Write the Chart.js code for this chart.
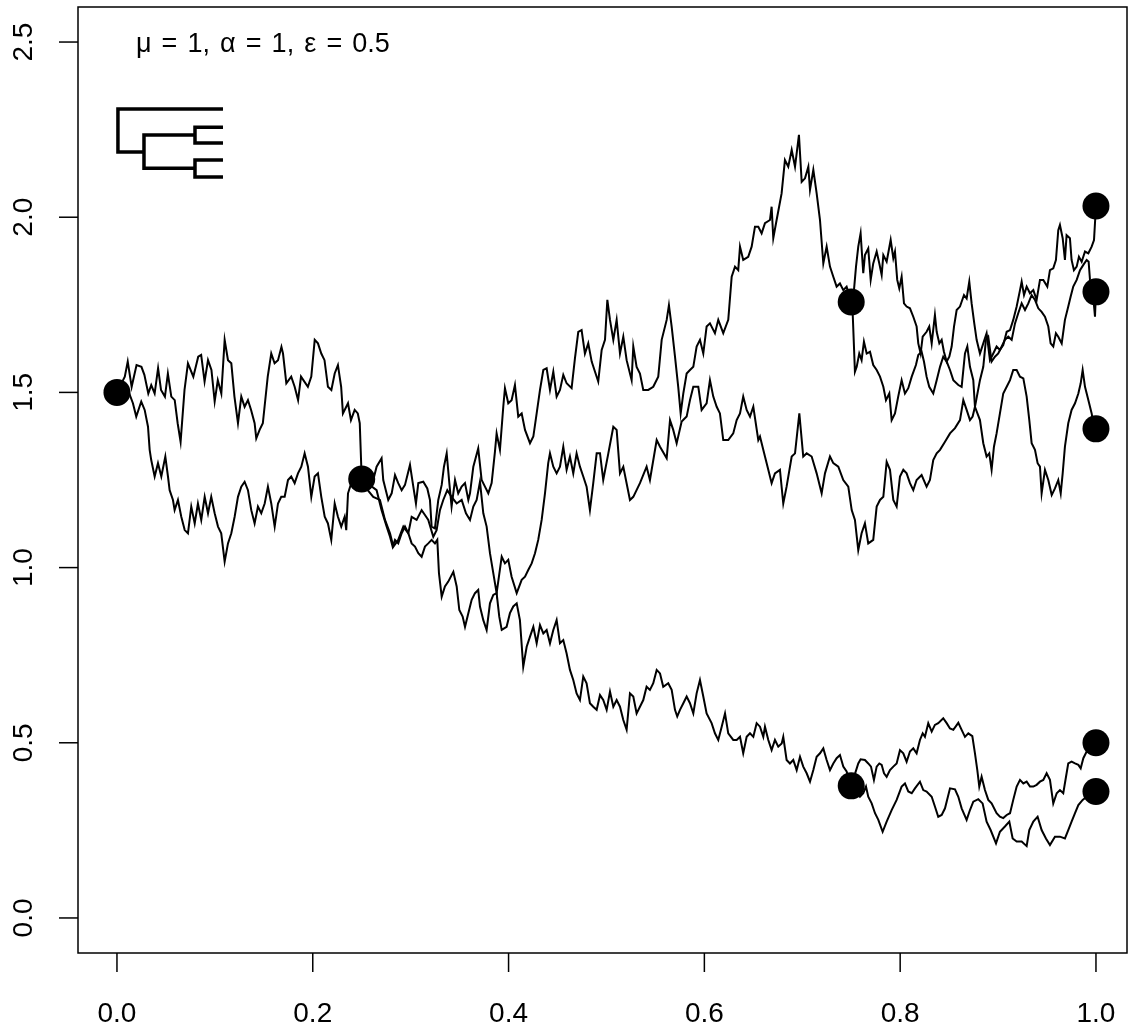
<!DOCTYPE html>
<html>
<head>
<meta charset="utf-8">
<script src="https://cdn.jsdelivr.net/npm/chart.js@4.4.0/dist/chart.umd.min.js"></script>
<style>
  html, body { margin: 0; padding: 0; background: #ffffff; }
  canvas { display: block; }
</style>
</head>
<body>
<canvas id="bm-tree" width="1129" height="1028"></canvas>
<script>
// Axis ticks and labels
const xTicks = [0, 0.2, 0.4, 0.6, 0.8, 1.0];
const xTickLabels = ['0.0', '0.2', '0.4', '0.6', '0.8', '1.0'];
const yTicks = [0, 0.5, 1.0, 1.5, 2.0, 2.5];
const yTickLabels = ['0.0', '0.5', '1.0', '1.5', '2.0', '2.5'];
const titleText = 'μ = 1, α = 1, ε = 0.5';

// Node and tip values [time, trait]
const nodeDots = [[0, 1.5], [0.25, 1.253], [0.75, 1.758], [0.75, 0.377],
    [1, 2.032], [1, 1.787], [1, 1.396], [1, 0.500], [1, 0.361]];

// Small tree icon (null breaks the line)
const treeIcon = [
    [0.1083, 2.309], [0.001, 2.309], [0.001, 2.186], [0.0276, 2.186], [0.05, null],
    [0.0797, 2.235], [0.0276, 2.235], [0.0276, 2.140], [0.0797, 2.140], [0.05, null],
    [0.1083, 2.257], [0.0797, 2.257], [0.0797, 2.212], [0.1083, 2.212], [0.05, null],
    [0.1083, 2.163], [0.0797, 2.163], [0.0797, 2.115], [0.1083, 2.115]
];

// root -> first split (upper wander)
const rootToSplitPath = [[0,1.5],[0.008,1.545],[0.011,1.588],[0.015,1.516],[0.020,1.578],[0.025,1.573],[0.028,1.550],[0.032,1.497],[0.035,1.521],[0.0385,1.497],[0.042,1.569],[0.045,1.507],[0.049,1.488],[0.052,1.554],[0.0555,1.488],[0.059,1.478],[0.062,1.412],[0.065,1.359],[0.069,1.507],[0.0725,1.583],[0.078,1.545],[0.083,1.602],[0.086,1.607],[0.0895,1.531],[0.093,1.592],[0.0965,1.564],[0.0998,1.474],[0.103,1.535],[0.1066,1.497],[0.110,1.650],[0.1134,1.592],[0.1168,1.583],[0.120,1.488],[0.1236,1.412],[0.127,1.488],[0.1304,1.459],[0.1338,1.478],[0.137,1.450],[0.1406,1.412],[0.1423,1.369],[0.1457,1.393],[0.149,1.412],[0.154,1.545],[0.1576,1.611],[0.161,1.583],[0.1645,1.592],[0.168,1.630],[0.1696,1.611],[0.173,1.526],[0.178,1.545],[0.1815,1.516],[0.185,1.478],[0.188,1.545],[0.195,1.516],[0.1985,1.545],[0.202,1.650],[0.2053,1.640],[0.2087,1.611],[0.212,1.592],[0.2155,1.516],[0.219,1.507],[0.2224,1.554],[0.2257,1.578],[0.229,1.516],[0.2308,1.440],[0.236,1.469],[0.239,1.421],[0.2428,1.450],[0.246,1.440],[0.248,1.412],[0.25,1.253]];

// root -> tip, the long lineage that never splits
const longLineagePath = [[0,1.5],[0.0112,1.507],[0.0163,1.469],[0.0197,1.431],[0.0248,1.474],[0.0283,1.450],[0.0317,1.402],[0.0334,1.336],[0.035,1.307],[0.0385,1.260],[0.0419,1.298],[0.0453,1.260],[0.0494,1.317],[0.0521,1.260],[0.0538,1.221],[0.0572,1.193],[0.0589,1.164],[0.0623,1.193],[0.0657,1.145],[0.0692,1.107],[0.0725,1.098],[0.0759,1.174],[0.0794,1.126],[0.0827,1.183],[0.0861,1.136],[0.0896,1.202],[0.093,1.155],[0.0963,1.202],[0.0998,1.155],[0.1032,1.117],[0.1065,1.098],[0.11,1.017],[0.1134,1.069],[0.1168,1.098],[0.1202,1.145],[0.1236,1.202],[0.127,1.231],[0.1304,1.245],[0.1338,1.221],[0.1372,1.164],[0.1406,1.126],[0.144,1.174],[0.1474,1.155],[0.1509,1.183],[0.1542,1.231],[0.1576,1.183],[0.1611,1.117],[0.1645,1.183],[0.1678,1.202],[0.1713,1.202],[0.1747,1.25],[0.178,1.260],[0.1815,1.241],[0.1849,1.269],[0.1883,1.288],[0.1917,1.326],[0.1951,1.288],[0.1985,1.202],[0.2019,1.260],[0.2053,1.269],[0.2087,1.202],[0.2122,1.145],[0.2155,1.126],[0.2189,1.079],[0.2224,1.183],[0.2257,1.145],[0.2291,1.117],[0.2326,1.145],[0.2342,1.107],[0.236,1.212],[0.2393,1.241],[0.2444,1.221],[0.2503,1.241],
    [0.2618,1.202],[0.2686,1.193],[0.2738,1.136],[0.2789,1.098],[0.2823,1.060],[0.2873,1.079],[0.2925,1.117],[0.2976,1.098],[0.301,1.145],[0.3061,1.136],[0.3112,1.164],[0.3146,1.150],[0.318,1.136],[0.3231,1.088],[0.3265,1.107],[0.3299,1.164],[0.3333,1.193],[0.3374,1.221],[0.3418,1.202],[0.347,1.183],[0.3521,1.193],[0.3565,1.155],[0.3606,1.136],
    [0.364,1.174],[0.3674,1.193],[0.3708,1.245],[0.3742,1.155],[0.3776,1.117],[0.381,1.041],[0.3844,0.984],[0.3878,0.927],[0.393,1.031],[0.3963,1.012],[0.3997,1.022],[0.4031,0.974],[0.4083,0.927],[0.4134,0.965],[0.4168,0.974],[0.4201,0.993],[0.4236,1.012],[0.427,1.041],[0.4303,1.079],[0.4338,1.136],[0.4372,1.212],[0.4405,1.298],[0.4423,1.326],[0.4457,1.288],[0.4491,1.269],[0.4525,1.288],[0.4559,1.345],[0.4593,1.279],[0.4627,1.317],[0.4661,1.269],[0.4695,1.326],[0.4729,1.288],[0.4763,1.260],[0.4797,1.231],[0.4831,1.164],[0.4865,1.241],[0.49,1.326],[0.4934,1.326],[0.4967,1.25],
    [0.5019,1.326],[0.507,1.402],[0.5104,1.393],[0.5138,1.269],[0.5172,1.288],[0.524,1.193],[0.5274,1.202],[0.5342,1.241],[0.541,1.288],[0.5444,1.25],[0.5513,1.364],[0.5547,1.345],[0.5615,1.312],[0.5649,1.421],[0.5682,1.393],[0.5717,1.355],[0.5768,1.417],[0.5819,1.431],[0.5853,1.478],[0.5887,1.516],[0.5938,1.516],[0.5972,1.450],[0.6023,1.469],[0.6057,1.535],[0.6091,1.488],[0.6126,1.459],[0.6159,1.440],[0.6193,1.364],[0.6244,1.364],[0.6295,1.383],[0.633,1.421],[0.6364,1.440],[0.6397,1.488],[0.6432,1.450],[0.6466,1.431],[0.65,1.459],[0.6551,1.364],
    [0.6568,1.374],[0.6619,1.317],[0.6653,1.279],[0.6687,1.241],[0.6721,1.269],[0.6772,1.279],[0.6806,1.183],[0.684,1.231],[0.6892,1.317],[0.6926,1.326],[0.697,1.440],[0.701,1.317],[0.7045,1.326],[0.7096,1.317],[0.7147,1.269],[0.7198,1.212],[0.7232,1.269],[0.7283,1.317],[0.7317,1.298],[0.7368,1.288],[0.7419,1.25],[0.747,1.231],[0.7505,1.164],[0.7538,1.136],[0.7572,1.050],
    [0.7606,1.098],[0.764,1.126],[0.7674,1.069],[0.7725,1.079],[0.776,1.174],[0.7794,1.193],[0.7828,1.202],[0.7862,1.302],[0.7896,1.279],[0.793,1.193],[0.7964,1.174],[0.7998,1.260],[0.8032,1.279],[0.8066,1.269],[0.81,1.241],[0.8134,1.221],[0.8168,1.25],[0.8219,1.264],[0.827,1.231],[0.8304,1.25],[0.8338,1.307],[0.8373,1.326],[0.8407,1.336],[0.8458,1.359],[0.8509,1.383],[0.856,1.398],[0.8611,1.421],[0.8645,1.478],[0.8679,1.450],[0.8713,1.421],[0.874,1.431],[0.8764,1.459],
    [0.8815,1.535],[0.8849,1.573],[0.8876,1.650],[0.89,1.659],[0.8934,1.588],[0.8968,1.602],[0.9002,1.611],[0.9037,1.631],[0.907,1.650],[0.9104,1.659],[0.9139,1.650],[0.9173,1.697],[0.9206,1.726],[0.9241,1.754],[0.9275,1.735],[0.9309,1.754],[0.9343,1.778],[0.9377,1.764],[0.9411,1.740],[0.9445,1.730],[0.9479,1.716],[0.9513,1.688],[0.9537,1.640],[0.9564,1.631],[0.9591,1.669],[0.9615,1.659],[0.965,1.640],[0.9683,1.707],[0.9717,1.745],[0.9741,1.773],[0.9768,1.802],[0.9803,1.821],[0.9837,1.849],[0.9871,1.864],[0.9905,1.878],[0.9925,1.873],[0.9939,1.821],[0.9966,1.792],[0.999,1.716],[1.0,1.787]];

// first split -> upper split -> top tip
const splitToUpperPath = [[0.25,1.253],[0.2618,1.250],[0.2652,1.288],[0.2703,1.312],[0.272,1.25],[0.2771,1.193],[0.2806,1.212],[0.284,1.264],[0.2873,1.241],[0.2908,1.221],[0.2942,1.236],[0.2993,1.293],[0.3027,1.231],[0.3054,1.183],[0.3078,1.241],[0.3129,1.245],[0.317,1.226],[0.3197,1.193],[0.3214,1.117],[0.3248,1.112],[0.3282,1.193],[0.3317,1.236],[0.334,1.288],[0.3368,1.326],[0.3395,1.241],[0.3418,1.174],[0.3453,1.25],[0.3486,1.212],[0.3521,1.231],[0.3555,1.241],[0.3589,1.193],
    [0.3606,1.212],[0.364,1.288],[0.369,1.340],[0.3725,1.25],[0.3759,1.231],[0.3793,1.212],[0.3827,1.241],[0.3861,1.331],[0.3878,1.383],[0.3912,1.336],[0.3946,1.459],[0.3963,1.512],[0.3997,1.469],[0.4031,1.478],[0.4065,1.521],[0.4099,1.431],[0.4134,1.440],[0.4168,1.393],[0.4219,1.355],[0.4253,1.374],[0.4287,1.440],[0.4321,1.507],[0.4355,1.564],[0.4389,1.569],[0.4423,1.507],[0.4457,1.559],[0.4491,1.488],[0.4525,1.507],[0.4559,1.550],[0.4593,1.526],[0.4644,1.512],[0.4678,1.597],[0.4712,1.673],[0.4746,1.678],[0.478,1.611],[0.4814,1.640],[0.4849,1.588],[0.4883,1.559],[0.4916,1.531],[0.4951,1.621],[0.4985,1.650],[0.5009,1.764],
    [0.5036,1.707],[0.507,1.650],[0.5104,1.707],[0.5138,1.611],[0.5172,1.659],[0.5206,1.592],[0.5257,1.535],[0.5274,1.631],[0.5308,1.573],[0.5342,1.554],[0.5376,1.507],[0.5427,1.507],[0.5478,1.516],[0.5529,1.545],[0.5564,1.650],[0.5615,1.707],[0.5638,1.749],[0.5666,1.688],[0.57,1.602],[0.5733,1.516],[0.5758,1.440],[0.5785,1.497],[0.5819,1.554],[0.5853,1.564],[0.5887,1.573],[0.5921,1.631],[0.5955,1.650],[0.5989,1.611],[0.6023,1.688],[0.6057,1.697],[0.6108,1.669],[0.6142,1.707],[0.6193,1.669],[0.6244,1.707],[0.6279,1.830],[0.6313,1.859],[0.6346,1.849],[0.6364,1.916],[0.6397,1.878],[0.6448,1.887],[0.6483,1.916],[0.6517,1.973],[0.6551,1.973],[0.6585,1.954],[0.6619,1.983],[0.667,1.992],[0.6687,2.030],[0.6704,1.940],[0.6738,1.992],[0.6789,2.068],[0.6823,2.163],[0.6857,2.144],[0.6892,2.192],[0.6926,2.144],[0.6966,2.235],[0.6994,2.101],[0.7028,2.111],[0.7062,2.144],[0.7079,2.078],[0.7113,2.135],[0.7147,2.068],[0.7181,1.992],[0.7215,1.868],[0.7249,1.916],[0.7283,1.859],[0.7317,1.830],[0.7351,1.802],[0.7385,1.811],[0.7419,1.792],[0.7453,1.802],[0.75,1.758],
    [0.7528,1.792],[0.7549,1.859],[0.7572,1.916],[0.7596,1.954],[0.7623,1.840],[0.764,1.892],[0.7674,1.911],[0.7699,1.821],[0.7725,1.868],[0.776,1.902],[0.7787,1.868],[0.7811,1.835],[0.7828,1.892],[0.7862,1.873],[0.7903,1.935],[0.793,1.883],[0.7947,1.902],[0.797,1.821],[0.7991,1.797],[0.8015,1.830],[0.8039,1.754],[0.8066,1.745],[0.81,1.740],[0.8134,1.716],[0.8168,1.688],[0.8185,1.640],[0.8209,1.611],[0.823,1.659],[0.827,1.673],[0.8297,1.688],[0.8322,1.640],[0.8355,1.721],[0.8373,1.673],[0.84,1.640],[0.8424,1.650],[0.8447,1.616],[0.8475,1.588],[0.8502,1.602],[0.8526,1.631],[0.855,1.688],[0.8577,1.735],[0.8611,1.745],[0.8652,1.778],[0.8679,1.768],[0.8706,1.816],[0.873,1.754],[0.8757,1.697],[0.8781,1.650],[0.8815,1.611],[0.8849,1.640],[0.8883,1.669],[0.8917,1.592],[0.8951,1.611],[0.8985,1.631],[0.9019,1.621],[0.9053,1.635],[0.9088,1.673],[0.9122,1.678],[0.9155,1.707],[0.919,1.745],[0.9224,1.792],[0.9241,1.816],[0.9265,1.778],[0.9292,1.802],[0.9326,1.783],[0.936,1.792],[0.9394,1.764],[0.9428,1.821],[0.9462,1.821],[0.9503,1.802],[0.953,1.849],[0.9564,1.854],[0.9591,1.878],[0.9615,1.963],[0.9632,1.978],[0.966,1.940],[0.9683,1.878],[0.97,1.949],[0.9734,1.940],[0.9751,1.878],[0.9775,1.849],[0.9803,1.859],[0.9826,1.887],[0.9854,1.873],[0.9888,1.902],[0.9922,1.897],[0.9956,1.916],[0.998,1.935],[1.0,2.032]];

// upper split -> tip (second branch)
const upperSplitToTipPath = [[0.75,1.758],[0.7515,1.726],[0.7538,1.559],[0.7556,1.573],[0.7582,1.611],[0.7606,1.592],[0.763,1.645],[0.7658,1.611],[0.7692,1.616],[0.7725,1.578],[0.776,1.564],[0.7794,1.545],[0.7828,1.516],[0.7855,1.478],[0.7889,1.497],[0.7913,1.421],[0.7947,1.440],[0.798,1.488],[0.8015,1.535],[0.8049,1.497],[0.8083,1.512],[0.8118,1.545],[0.8161,1.578],[0.8185,1.607],[0.8219,1.616],[0.8243,1.588],[0.827,1.545],[0.8297,1.516],[0.8338,1.497],[0.8373,1.535],[0.8407,1.573],[0.844,1.602],[0.8475,1.588],[0.8509,1.564],[0.8543,1.535],[0.8594,1.521],[0.8628,1.516],[0.8662,1.611],[0.8686,1.631],[0.8713,1.573],[0.8747,1.535],[0.8764,1.459],[0.8815,1.421],[0.8849,1.355],[0.8883,1.317],[0.891,1.326],[0.8934,1.279],[0.8958,1.345],[0.8985,1.383],[0.9019,1.440],[0.9053,1.497],[0.9088,1.516],[0.9122,1.535],[0.9155,1.564],[0.919,1.564],[0.9224,1.545],[0.9258,1.540],[0.9292,1.488],[0.9319,1.421],[0.9343,1.355],[0.9377,1.336],[0.9404,1.298],[0.9428,1.288],[0.9445,1.212],[0.9479,1.279],[0.9513,1.25],[0.9548,1.207],[0.9581,1.226],[0.9615,1.25],[0.964,1.212],[0.966,1.269],[0.9683,1.345],[0.9717,1.412],[0.9751,1.450],[0.9786,1.469],[0.982,1.497],[0.9844,1.526],[0.9864,1.564],[0.9888,1.516],[0.9922,1.478],[0.9956,1.440],[0.9973,1.412],[1.0,1.396]];

// first split -> lower split
const splitToLowerPath = [[0.25,1.253],[0.2652,1.221],[0.2703,1.164],[0.2755,1.117],[0.2789,1.088],[0.2816,1.060],[0.284,1.079],[0.2873,1.069],[0.2908,1.098],[0.2942,1.117],[0.2976,1.098],[0.301,1.069],[0.3044,1.060],[0.3078,1.041],[0.3112,1.031],[0.3146,1.060],[0.318,1.069],[0.3214,1.079],[0.3248,1.069],[0.3272,1.079],[0.3289,0.984],[0.3317,0.917],[0.335,0.946],[0.3384,0.960],[0.3436,0.988],[0.347,0.946],[0.3497,0.879],[0.3531,0.860],[0.3555,0.831],[0.3589,0.870],[0.3623,0.908],[0.3657,0.927],[0.369,0.936],[0.3708,0.889],[0.3742,0.850],[0.3776,0.822],[0.381,0.898],[0.3844,0.922],[0.3878,0.927],[0.3905,0.860],[0.393,0.822],[0.398,0.831],[0.4014,0.870],[0.4048,0.889],[0.4083,0.898],[0.4116,0.850],[0.415,0.717],[0.4185,0.774],[0.4219,0.803],[0.4253,0.831],[0.4287,0.784],[0.4321,0.836],[0.4355,0.812],[0.4389,0.822],[0.4423,0.784],[0.4457,0.822],[0.4491,0.850],[0.4525,0.784],[0.4559,0.793],[0.4593,0.755],[0.4627,0.708],
    [0.4661,0.679],[0.4695,0.641],[0.4729,0.622],[0.4763,0.689],[0.4797,0.670],[0.4831,0.613],[0.4865,0.603],[0.49,0.594],[0.4934,0.636],[0.4967,0.622],[0.5002,0.594],[0.5036,0.646],[0.507,0.603],[0.5104,0.622],[0.5138,0.603],[0.5172,0.565],[0.5206,0.537],[0.524,0.641],[0.5274,0.632],[0.5308,0.584],[0.5342,0.603],[0.5376,0.622],[0.541,0.660],[0.5444,0.651],[0.5478,0.670],[0.5513,0.708],[0.5547,0.698],[0.558,0.660],[0.5631,0.670],[0.5666,0.651],[0.57,0.594],[0.5723,0.575],[0.5751,0.594],[0.5785,0.613],[0.5819,0.632],[0.5853,0.613],[0.5887,0.584],[0.5921,0.641],[0.5955,0.679],[0.5989,0.632],[0.6023,0.584],[0.6074,0.556],[0.6108,0.527],[0.6142,0.508],[0.6177,0.546],[0.6211,0.584],[0.6244,0.527],[0.6295,0.508],[0.633,0.508],
    [0.6364,0.517],[0.6397,0.470],[0.6432,0.517],[0.6466,0.527],[0.65,0.517],[0.6534,0.556],[0.6568,0.546],[0.6602,0.517],[0.6619,0.546],[0.6653,0.508],[0.6687,0.479],[0.6721,0.508],[0.6755,0.489],[0.679,0.498],[0.6806,0.517],[0.684,0.451],[0.6874,0.441],[0.6908,0.451],[0.6943,0.422],[0.6977,0.460],[0.701,0.432],[0.7045,0.413],[0.7079,0.389],[0.7113,0.422],[0.7147,0.460],[0.7181,0.470],[0.7215,0.484],[0.7249,0.451],[0.7283,0.422],[0.7317,0.441],[0.7351,0.456],[0.7385,0.465],[0.7419,0.432],[0.7453,0.418],[0.75,0.377]];

// lower split -> its two tips
const lowerSplitToTipA = [[0.75,0.377],[0.7572,0.441],[0.7596,0.453],[0.764,0.451],[0.7674,0.441],[0.7702,0.432],[0.7732,0.394],[0.776,0.432],[0.7787,0.441],[0.7811,0.437],[0.7835,0.413],[0.7862,0.403],[0.7896,0.422],[0.793,0.432],[0.7964,0.441],[0.7998,0.479],[0.8032,0.470],[0.8066,0.446],[0.81,0.475],[0.8134,0.484],[0.8168,0.470],[0.8202,0.508],[0.823,0.527],[0.8253,0.517],[0.8287,0.556],[0.8322,0.532],[0.8355,0.551],[0.8389,0.556],[0.844,0.570],[0.8475,0.556],[0.8509,0.541],[0.8543,0.537],[0.8594,0.557],[0.8628,0.537],[0.8662,0.517],[0.8696,0.527],[0.8737,0.519],[0.8764,0.470],[0.8788,0.422],[0.8808,0.375],[0.8832,0.403],[0.8866,0.365],[0.89,0.337],[0.8934,0.327],[0.8985,0.299],[0.9019,0.289],[0.9053,0.285],[0.9088,0.294],[0.9122,0.299],[0.9155,0.337],[0.919,0.375],[0.9224,0.394],[0.9258,0.384],[0.9292,0.389],[0.9326,0.375],[0.936,0.375],[0.9394,0.380],[0.9428,0.389],[0.9462,0.394],[0.9496,0.413],[0.953,0.394],[0.9564,0.327],[0.9599,0.356],[0.9632,0.365],[0.9666,0.356],[0.9694,0.403],[0.9717,0.441],[0.9751,0.446],[0.9786,0.441],[0.982,0.437],[0.9844,0.427],[0.9871,0.456],[0.9905,0.475],[0.9939,0.489],[1.0,0.500]];

const lowerSplitToTipB = [[0.75,0.377],[0.7589,0.346],[0.7623,0.356],[0.7651,0.375],[0.7674,0.346],[0.7709,0.327],[0.7743,0.299],[0.7777,0.280],[0.7821,0.246],[0.7862,0.275],[0.7913,0.308],[0.7964,0.337],[0.8015,0.375],[0.8049,0.384],[0.8083,0.361],[0.8118,0.356],[0.8151,0.370],[0.8202,0.389],[0.8236,0.365],[0.827,0.361],[0.8322,0.346],[0.8355,0.318],[0.8389,0.289],[0.8424,0.294],[0.8458,0.313],[0.8509,0.370],[0.856,0.367],[0.8594,0.346],[0.8628,0.313],[0.8679,0.280],[0.8713,0.308],[0.8747,0.332],[0.8798,0.339],[0.8842,0.327],[0.8883,0.275],[0.8924,0.251],[0.8979,0.213],[0.9019,0.246],[0.907,0.261],[0.9115,0.275],[0.9149,0.227],[0.919,0.218],[0.9241,0.218],[0.9292,0.205],[0.9319,0.251],[0.936,0.275],[0.9404,0.289],[0.9445,0.251],[0.9489,0.227],[0.953,0.208],[0.9581,0.232],[0.9632,0.232],[0.9683,0.227],[0.9717,0.251],[0.9751,0.275],[0.9786,0.299],[0.982,0.322],[0.9864,0.337],[0.9905,0.346],[1.0,0.361]];

const pathSeries = [rootToSplitPath, longLineagePath, splitToUpperPath,
    upperSplitToTipPath, splitToLowerPath, lowerSplitToTipA, lowerSplitToTipB];

function toPoints(arr) {
    return arr.map(p => ({ x: p[0], y: p[1] }));
}

const axisFont = '28px "Liberation Sans", Arial, sans-serif';

// Draws the R-style box, outside ticks, rotated y labels and the top-left note
const rAxesPlugin = {
    id: 'rAxes',
    afterDraw(chart) {
        const ctx = chart.ctx;
        const area = chart.chartArea;
        const xs = chart.scales.x;
        const ys = chart.scales.y;
        const tickLen = 19;

        ctx.save();
        ctx.strokeStyle = '#000';
        ctx.lineWidth = 1.5;
        ctx.strokeRect(area.left, area.top, area.right - area.left, area.bottom - area.top);

        ctx.fillStyle = '#000';
        ctx.font = axisFont;

        // x axis
        ctx.textAlign = 'center';
        ctx.textBaseline = 'alphabetic';
        xTicks.forEach((v, i) => {
            const px = xs.getPixelForValue(v);
            ctx.beginPath();
            ctx.moveTo(px, area.bottom);
            ctx.lineTo(px, area.bottom + tickLen);
            ctx.stroke();
            ctx.fillText(xTickLabels[i], px, area.bottom + 69);
        });

        // y axis, labels parallel to the axis
        yTicks.forEach((v, i) => {
            const py = ys.getPixelForValue(v);
            ctx.beginPath();
            ctx.moveTo(area.left, py);
            ctx.lineTo(area.left - tickLen, py);
            ctx.stroke();
            ctx.save();
            ctx.translate(area.left - 46, py);
            ctx.rotate(-Math.PI / 2);
            ctx.fillText(yTickLabels[i], 0, 0);
            ctx.restore();
        });

        // parameter note, spaced like R plotmath
        ctx.font = '27px "Liberation Sans", Arial, sans-serif';
        ctx.textAlign = 'center';
        if ('wordSpacing' in ctx) ctx.wordSpacing = '2.6px';
        ctx.fillText(titleText, xs.getPixelForValue(0.149), ys.getPixelForValue(2.5) + 9.7);
        ctx.restore();
    }
};

const datasets = [{
    type: 'scatter',
    data: toPoints(nodeDots),
    pointRadius: 13.5,
    pointBackgroundColor: '#000',
    pointBorderWidth: 0,
    showLine: false
}, {
    data: toPoints(treeIcon),
    borderColor: '#000',
    borderWidth: 3.5,
    borderCapStyle: 'butt',
    borderJoinStyle: 'miter',
    spanGaps: false,
    pointRadius: 0
}];

pathSeries.forEach(path => {
    datasets.push({
        data: toPoints(path),
        borderColor: '#000',
        borderWidth: 2,
        pointRadius: 0,
        tension: 0
    });
});

const ctx = document.getElementById('bm-tree').getContext('2d');
new Chart(ctx, {
    type: 'line',
    data: { datasets: datasets },
    options: {
        responsive: false,
        animation: false,
        devicePixelRatio: 1,
        layout: { autoPadding: false, padding: { left: 78, top: 7, right: 2, bottom: 75 } },
        plugins: {
            legend: { display: false },
            tooltip: { enabled: false }
        },
        scales: {
            x: { type: 'linear', min: -0.0398, max: 1.0317, display: false },
            y: { type: 'linear', min: -0.1, max: 2.6, display: false }
        }
    },
    plugins: [rAxesPlugin]
});
</script>
</body>
</html>
